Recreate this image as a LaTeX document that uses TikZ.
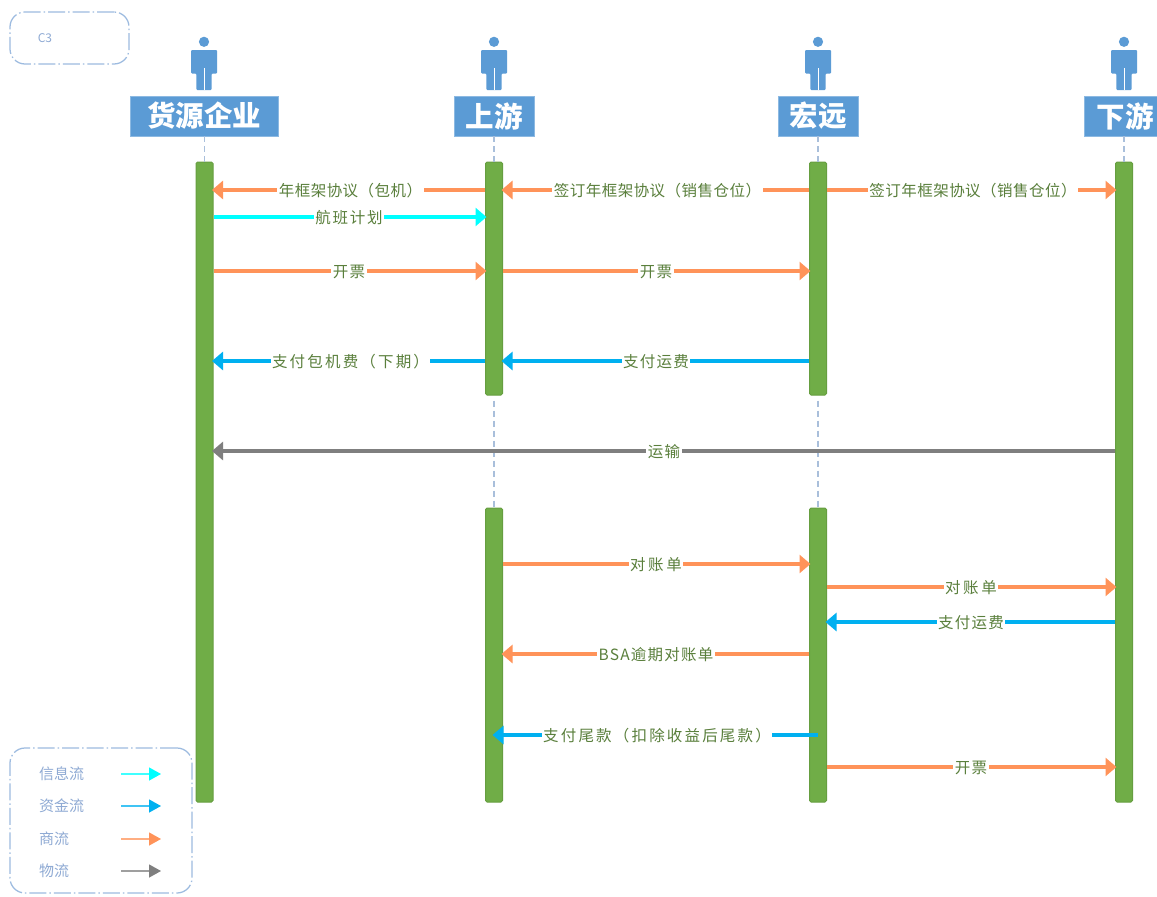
\documentclass[tikz,border=0pt]{standalone}
\usepackage{fontspec}
\setmainfont{Noto Sans CJK SC}
\newfontfamily\cjk[LetterSpace=8]{Noto Sans CJK SC}
\newfontfamily\cjktight[LetterSpace=3]{Noto Sans CJK SC}
\newfontfamily\cjkmid[LetterSpace=11]{Noto Sans CJK SC}
\newfontfamily\cjkwide[LetterSpace=14]{Noto Sans CJK SC}
\newfontfamily\cjkwider[LetterSpace=17]{Noto Sans CJK SC}
\newfontfamily\plaincjk{Noto Sans CJK SC}
\usetikzlibrary{arrows.meta}
\definecolor{hdr}{HTML}{5B9BD5}
\definecolor{barf}{HTML}{70AD47}
\definecolor{bard}{HTML}{669E40}
\definecolor{flowo}{HTML}{FF9359}
\definecolor{flowc}{HTML}{00FFFF}
\definecolor{flowb}{HTML}{00B0F0}
\definecolor{flowg}{HTML}{7F7F7F}
\definecolor{labg}{HTML}{5A7F3C}
\definecolor{frame}{HTML}{9DBBE0}
\definecolor{leg}{HTML}{8FAAD4}
\definecolor{life}{HTML}{A9BFDB}
\tikzset{
  x=1pt,y=-1pt,
  head/.style={fill=hdr,draw=hdr!70!white,line width=.6pt,text=white,minimum height=40pt,inner sep=0pt,font=\plaincjk\bfseries\fontsize{28.5}{28.5}\selectfont},
  bar/.style={fill=barf,draw=bard,line width=1pt,rounded corners=1.5pt,minimum width=17pt,inner sep=0pt},
  lifeline/.style={draw=life,line width=1.1pt,dash pattern=on 6pt off 4pt},
  msg/.style={line width=3.4pt,shorten >=-1.5pt,-{Triangle[length=11pt,width=18pt]}},
  lab/.style={fill=white,inner xsep=1.5pt,inner ysep=1pt,text=labg,yshift=-.6pt,font=\cjk\fontsize{15.5}{16}\selectfont},
  frm/.style={draw=frame,line width=1.25pt,rounded corners=15pt,dash pattern=on 17pt off 3pt on 1.5pt off 3pt},
  legt/.style={text=leg,inner sep=0pt,anchor=west,font=\plaincjk\fontsize{15}{16}\selectfont},
  legar/.style={line width=1.3pt,draw=#1!75!white,-{Triangle[length=12pt,width=13pt,color=#1,fill=#1]}},
}
\newcommand{\person}[1]{%
  \fill[hdr] (#1,41.8) circle (5.1);
  \fill[hdr,rounded corners=1pt] (#1-13,50) -- (#1+13,50) -- (#1+13,73.5) -- (#1+7.7,73.5) -- (#1+7.7,90) -- (#1-7.7,90) -- (#1-7.7,73.5) -- (#1-13,73.5) -- cycle;
  \fill[white] (#1-.45,68) rectangle (#1+.45,90);
}
\newcommand{\flow}[6]{% from, to, y, colour, label x, label
  \draw[msg,draw=#4] (#1 |- 0,#3) -- (#2 |- 0,#3) node[lab,at={(#5,#3)}] {#6};
}
\begin{document}
\begin{tikzpicture}
\useasboundingbox (0,0) rectangle (1157,897);
\fill[white] (0,0) rectangle (1157,897);

% frames
\node[frm,minimum width=119pt,minimum height=52pt,inner sep=0pt] (c3box) at (69.5,38) {};
\node[text=leg,inner sep=0pt,font=\plaincjk\fontsize{12}{12}\selectfont] (c3txt) at (45,38) {C3};
\node[frm,minimum width=182pt,minimum height=145pt,inner sep=0pt] (legbox) at (101,820.5) {};

% persons
\person{204}\person{494}\person{818}\person{1124}

% headers
\node[head,minimum width=148pt] (hA) at (204,116) {货源企业};
\node[head,minimum width=80pt] (hB) at (494,116) {上游};
\node[head,minimum width=80pt] (hC) at (818,116) {宏远};
\node[head,minimum width=73pt] (hD) at (1120.5,116) {\hspace*{9pt}下游};

% activation bars
\node[bar,minimum height=640pt] (bA) at (204.5,482) {};
\node[bar,minimum height=233pt] (bB1) at (494,278.5) {};
\node[bar,minimum height=294pt] (bB2) at (494,655) {};
\node[bar,minimum height=233pt] (bC1) at (818,278.5) {};
\node[bar,minimum height=294pt] (bC2) at (818,655) {};
\node[bar,minimum height=640pt] (bD) at (1124,482) {};

% lifelines
\draw[lifeline] (hA.south -| bA) -- (bA.north);
\draw[lifeline] (hB.south -| bB1) -- (bB1.north);
\draw[lifeline] (hC.south -| bC1) -- (bC1.north);
\draw[lifeline] (hD.south -| bD) -- (bD.north);
\draw[lifeline] ([yshift=-5pt]bB1.south) -- (bB2.north);
\draw[lifeline] ([yshift=-5pt]bC1.south) -- (bC2.north);

% messages
\flow{bB1.west}{bA.east}{190}{flowo}{350.5}{\cjktight 年框架协议（包机）}
\flow{bC1.west}{bB1.east}{190}{flowo}{657.5}{\cjktight 签订年框架协议（销售仓位）}
\flow{bC1.east}{bD.west}{190}{flowo}{973}{\cjktight 签订年框架协议（销售仓位）}
\flow{bA.east}{bB1.west}{217}{flowc}{349}{\cjkmid 航班计划}
\flow{bA.east}{bB1.west}{271}{flowo}{349}{开票}
\flow{bB1.east}{bC1.west}{271}{flowo}{656}{开票}
\flow{bB1.west}{bA.east}{361}{flowb}{350.5}{\cjkwide 支付包机费（下期）}
\flow{bC1.west}{bB1.east}{361}{flowb}{656}{支付运费}
\flow{bD.west}{bA.east}{451}{flowg}{664}{运输}
\flow{bB2.east}{bC2.west}{564}{flowo}{656}{\cjkwider 对账单}
\flow{bC2.east}{bD.west}{587}{flowo}{971}{\cjkwider 对账单}
\flow{bD.west}{bC2.east}{622}{flowb}{971}{支付运费}
\flow{bC2.west}{bB2.east}{654}{flowo}{656}{BSA逾期对账单}
\flow{bC2}{bB2}{735}{flowb}{657}{\cjkwide 支付尾款（扣除收益后尾款）}
\flow{bC2.east}{bD.west}{767}{flowo}{971}{开票}

% legend
\node[legt] (l1) at (39,773.5) {信息流};
\node[legt] (l2) at (39,806) {资金流};
\node[legt] (l3) at (39,838.5) {商流};
\node[legt] (l4) at (39,871) {物流};
\coordinate (e1) at (161,774);
\coordinate (e2) at (161,806);
\coordinate (e3) at (161,839);
\coordinate (e4) at (161,871);
\coordinate (s1) at (121,774);
\coordinate (s2) at (121,806);
\coordinate (s3) at (121,839);
\coordinate (s4) at (121,871);
\draw[legar=flowc] (s1) -- (e1);
\draw[legar=flowb] (s2) -- (e2);
\draw[legar=flowo] (s3) -- (e3);
\draw[legar=flowg] (s4) -- (e4);
\end{tikzpicture}
\end{document}
